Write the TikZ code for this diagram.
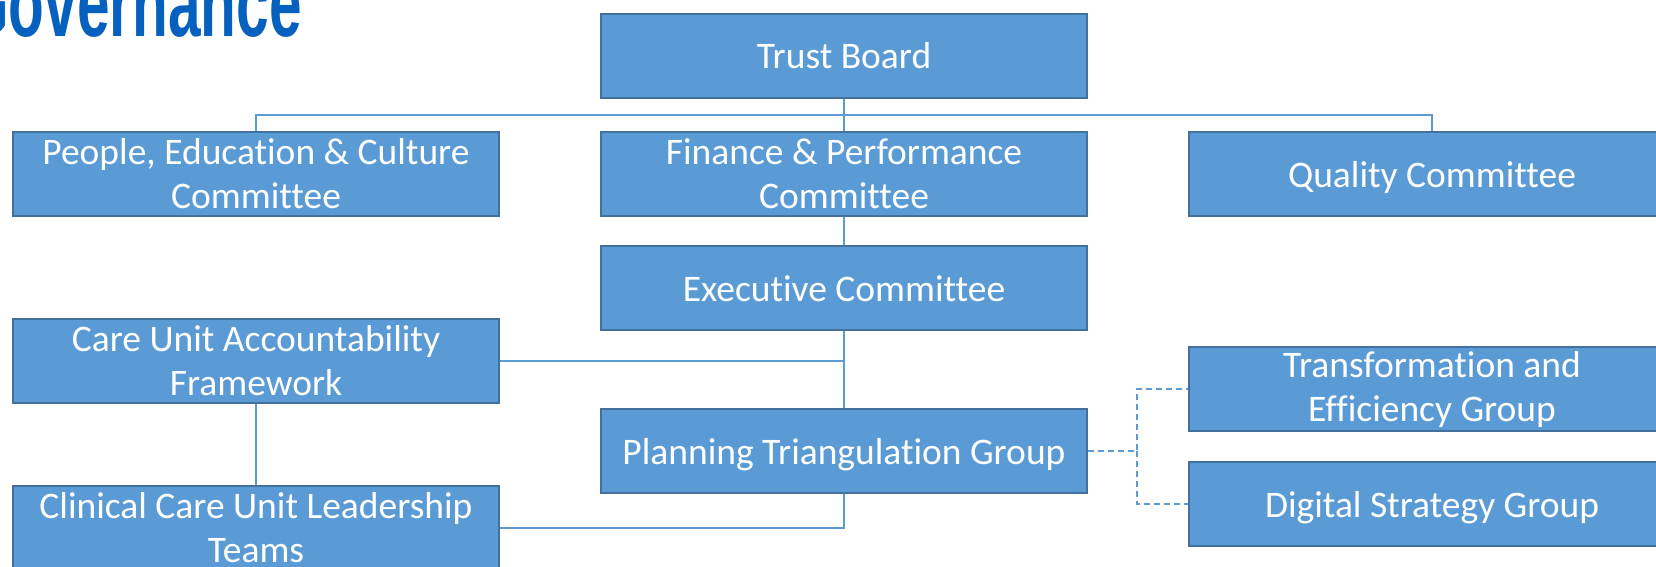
\documentclass[tikz,border=0pt]{standalone}
\usepackage{fontspec}
\usepackage{graphicx}
\setmainfont{Carlito}[Ligatures=NoCommon]
\newfontfamily\headfont{Liberation Sans}
\usepackage{tikz}
\usetikzlibrary{positioning, calc}
\definecolor{boxfill}{HTML}{5B9BD5}
\definecolor{boxline}{HTML}{41719C}
\definecolor{headblue}{HTML}{0560BE}
\tikzset{committee/.style = {draw=boxline, fill=boxfill, line width=2pt, minimum width=486pt, minimum height=84pt, inner sep=0pt, align=center, text=white, font=\fontsize{37.5}{44}\selectfont}}
\tikzset{single/.style = {text height=26pt, text depth=0pt}}
\tikzset{link/.style = {draw=boxfill, line width=1.4pt}}
\tikzset{dashlink/.style = {draw=boxfill, line width=1.4pt, dash pattern=on 6pt off 4pt}}

\begin{document}
\begin{tikzpicture}[x=1pt, y=1pt, node distance=32pt]
  \useasboundingbox (0,0) rectangle (1656,-567);
  \clip (0,0) rectangle (1656,-567);

  \node [anchor=base east, text=headblue, inner sep=0pt, font=\headfont\bfseries\fontsize{96}{98}\selectfont] (title) at (302,-37) {\scalebox{0.61}[1]{Governance}};

  \node [committee, single] (board) at (844,-56) {Trust Board};
  \node [committee, below=of board] (finance) {Finance \& Performance\\Committee};
  \node [committee, left=100pt of finance] (people) {People, Education \& Culture\\Committee};
  \node [committee, single, right=100pt of finance] (quality) {Quality Committee};
  \node [committee, single, below=28pt of finance] (exec) {Executive Committee};
  \node [committee, single, below=77pt of exec] (plan) {Planning Triangulation Group};
  \node [committee, below=101pt of people] (cuaf) {Care Unit Accountability\\Framework};
  \node [committee, below=81pt of cuaf] (ccult) {Clinical Care Unit Leadership\\Teams};
  \node [committee, below=127pt of quality, yshift=-2pt] (transform) {Transformation and\\Efficiency Group};
  \node [committee, single, below=29pt of transform] (digital) {Digital Strategy Group};

  \coordinate (bus) at ($(board.south)!0.5!(finance.north)$);
  \coordinate (split) at ($(plan.east)+(49,0)$);

  \path[link] (board.south) -- (finance.north);
  \path[link] (people.north) |- (bus) -| (quality.north);
  \path[link] (finance.south) -- (exec.north);
  \path[link] (exec.south) -- (plan.north);
  \path[link] (cuaf.east) -- (cuaf.east -| exec.south);
  \path[link] (cuaf.south) -- (ccult.north);
  \path[link] (plan.south) |- (ccult.east);

  \path[dashlink] (plan.east) -- (split) |- (transform.west);
  \path[dashlink] (split) |- (digital.west);
\end{tikzpicture}
\end{document}
